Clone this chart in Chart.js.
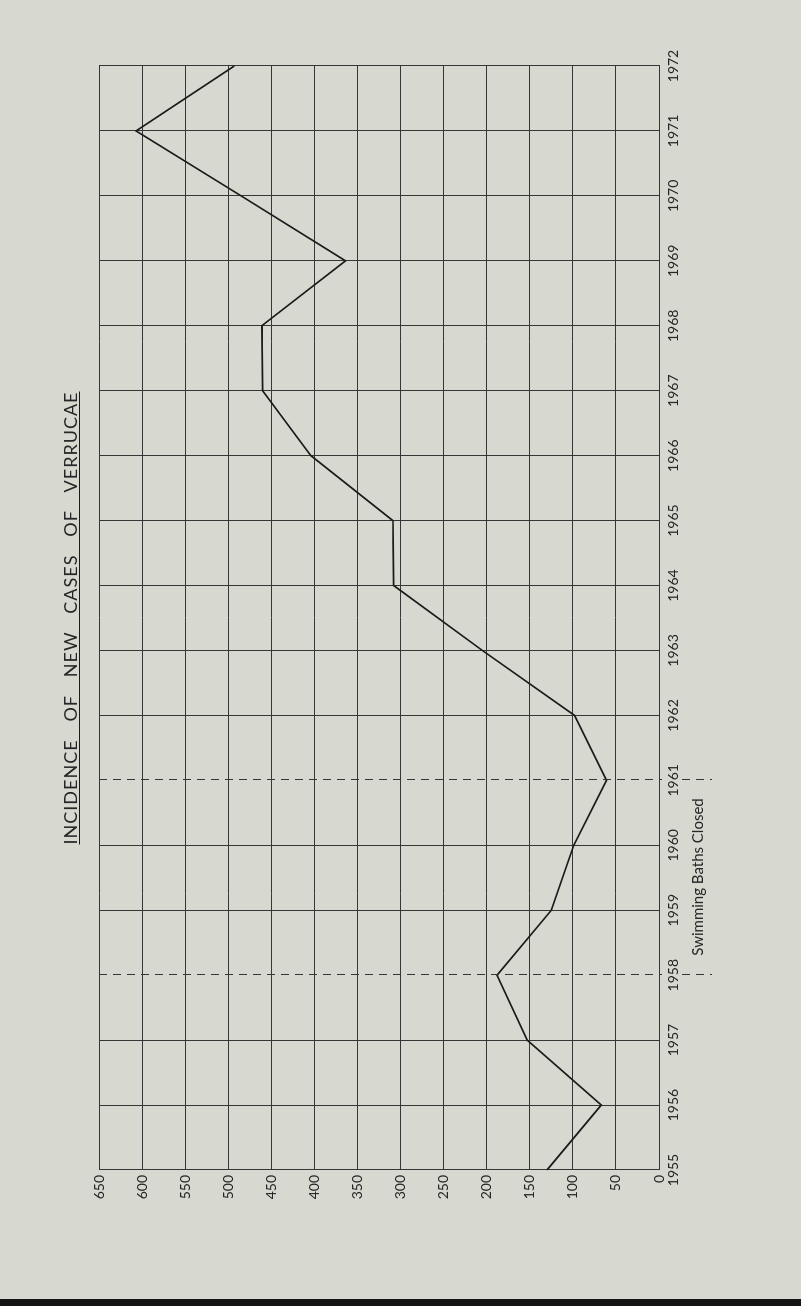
<!DOCTYPE html>
<html>
<head>
<meta charset="utf-8">
<title>Incidence of new cases of verrucae</title>
<script src="https://cdn.jsdelivr.net/npm/chart.js@4.4.1/dist/chart.umd.min.js"></script>
<style>
  html, body {
    margin: 0;
    padding: 0;
    width: 801px;
    height: 1306px;
    overflow: hidden;
    background: #d7d8d0;
  }
  /* the printed chart sits sideways on the page, so the whole canvas is turned */
  #turn {
    position: absolute;
    left: 0;
    top: 0;
    width: 1306px;
    height: 801px;
    transform-origin: 0 0;
    transform: translateY(1306px) rotate(-90deg);
  }
  #turn canvas { display: block; }
  #bottomBand {
    position: absolute;
    left: 0;
    top: 1299px;
    width: 801px;
    height: 7px;
    background: #141414;
  }
</style>
</head>
<body>
<div id="turn"><canvas id="verrucaeChart" width="1306" height="801"></canvas></div>
<div id="bottomBand"></div>

<script>
// Chart data
const years = [
  "1955", "1956", "1957", "1958", "1959", "1960", "1961", "1962", "1963",
  "1964", "1965", "1966", "1967", "1968", "1969", "1970", "1971", "1972",
];
const newCases = [
  130, 67, 153, 188, 125, 99, 61, 98, 205,
  308, 309, 404, 460, 461, 364, 485, 607, 493,
];
const caseAxisMax = 650;
const caseAxisStep = 50;

// Years drawn with a dashed line (baths closed in between)
const closedYears = ["1958", "1961"];
const closedNote = "Swimming Baths Closed";
const chartTitle = "INCIDENCE OF NEW CASES OF VERRUCAE";

// Styles
const inkColor = "#1b1b1b";
const gridColor = "#363636";
const textColor = "#262626";
const fontFamily = "Lato, 'Open Sans', sans-serif";

// Draws the title, its underline, the dashed "closed" years and the note
const pageNotes = {
  id: "pageNotes",
  afterDraw(chart) {
    const { ctx, chartArea, scales } = chart;
    ctx.save();

    // dashed lines
    ctx.strokeStyle = gridColor;
    ctx.lineWidth = 1;
    ctx.setLineDash([8, 6]);
    const closedPx = closedYears.map(
      (y) => Math.round(scales.x.getPixelForValue(years.indexOf(y))) + 0.5
    );
    closedPx.forEach((u) => {
      ctx.beginPath();
      ctx.moveTo(u, chartArea.top);
      ctx.lineTo(u, chartArea.bottom + 3);
      ctx.moveTo(u, chartArea.bottom + 23);
      ctx.lineTo(u, chartArea.bottom + 53);
      ctx.stroke();
    });
    ctx.setLineDash([]);

    // note between the two dashed years
    ctx.fillStyle = textColor;
    ctx.font = "15px " + fontFamily;
    ctx.textAlign = "center";
    ctx.textBaseline = "middle";
    ctx.fillText(closedNote, (closedPx[0] + closedPx[1]) / 2, chartArea.bottom + 39);

    // title, spread over the plot width like the print
    ctx.font = "18px " + fontFamily;
    if ("letterSpacing" in ctx) ctx.letterSpacing = "1px";
    ctx.textAlign = "left";
    ctx.textBaseline = "alphabetic";
    const words = chartTitle.split(" ");
    const titleWidth = 453;
    const titleStart = (chartArea.left + chartArea.right) / 2 - titleWidth / 2;
    const widths = words.map((w) => ctx.measureText(w).width);
    const gap =
      (titleWidth - widths.reduce((a, b) => a + b, 0)) / (words.length - 1);
    let u = titleStart;
    words.forEach((w, i) => {
      ctx.fillText(w, u, 77);
      u += widths[i] + gap;
    });
    ctx.strokeStyle = inkColor;
    ctx.beginPath();
    ctx.moveTo(titleStart, 79.5);
    ctx.lineTo(titleStart + titleWidth, 79.5);
    ctx.stroke();

    ctx.restore();
  },
};

function initializeChart() {
  const canvas = document.getElementById("verrucaeChart");
  if (!canvas) return;

  new Chart(canvas.getContext("2d"), {
    type: "line",
    data: {
      labels: years,
      datasets: [
        {
          label: "New cases",
          data: newCases,
          borderColor: inkColor,
          borderWidth: 1.7,
          pointRadius: 0,
          tension: 0,
          fill: false,
        },
      ],
    },
    options: {
      responsive: false,
      animation: false,
      layout: { padding: { left: 0, right: 66, top: 99, bottom: 0 } },
      plugins: {
        legend: { display: false },
        title: { display: false },
        tooltip: { enabled: false },
      },
      scales: {
        x: {
          grid: {
            color: (c) =>
              closedYears.includes(years[c.index]) ? "rgba(0,0,0,0)" : gridColor,
            lineWidth: 1,
            drawTicks: false,
          },
          border: { color: gridColor, width: 1 },
          ticks: {
            color: textColor,
            font: { family: fontFamily, size: 14 },
            padding: 6,
            maxRotation: 0,
            autoSkip: false,
          },
          afterFit: (s) => {
            s.height = 142;
          },
        },
        y: {
          min: 0,
          max: caseAxisMax,
          grid: { color: gridColor, lineWidth: 1, drawTicks: false },
          border: { color: gridColor, width: 1 },
          ticks: {
            stepSize: caseAxisStep,
            color: textColor,
            font: { family: fontFamily, size: 14 },
            padding: 5,
          },
          afterFit: (s) => {
            s.width = 136;
          },
        },
      },
    },
    plugins: [pageNotes],
  });
}

document.addEventListener("DOMContentLoaded", initializeChart);
</script>
</body>
</html>
